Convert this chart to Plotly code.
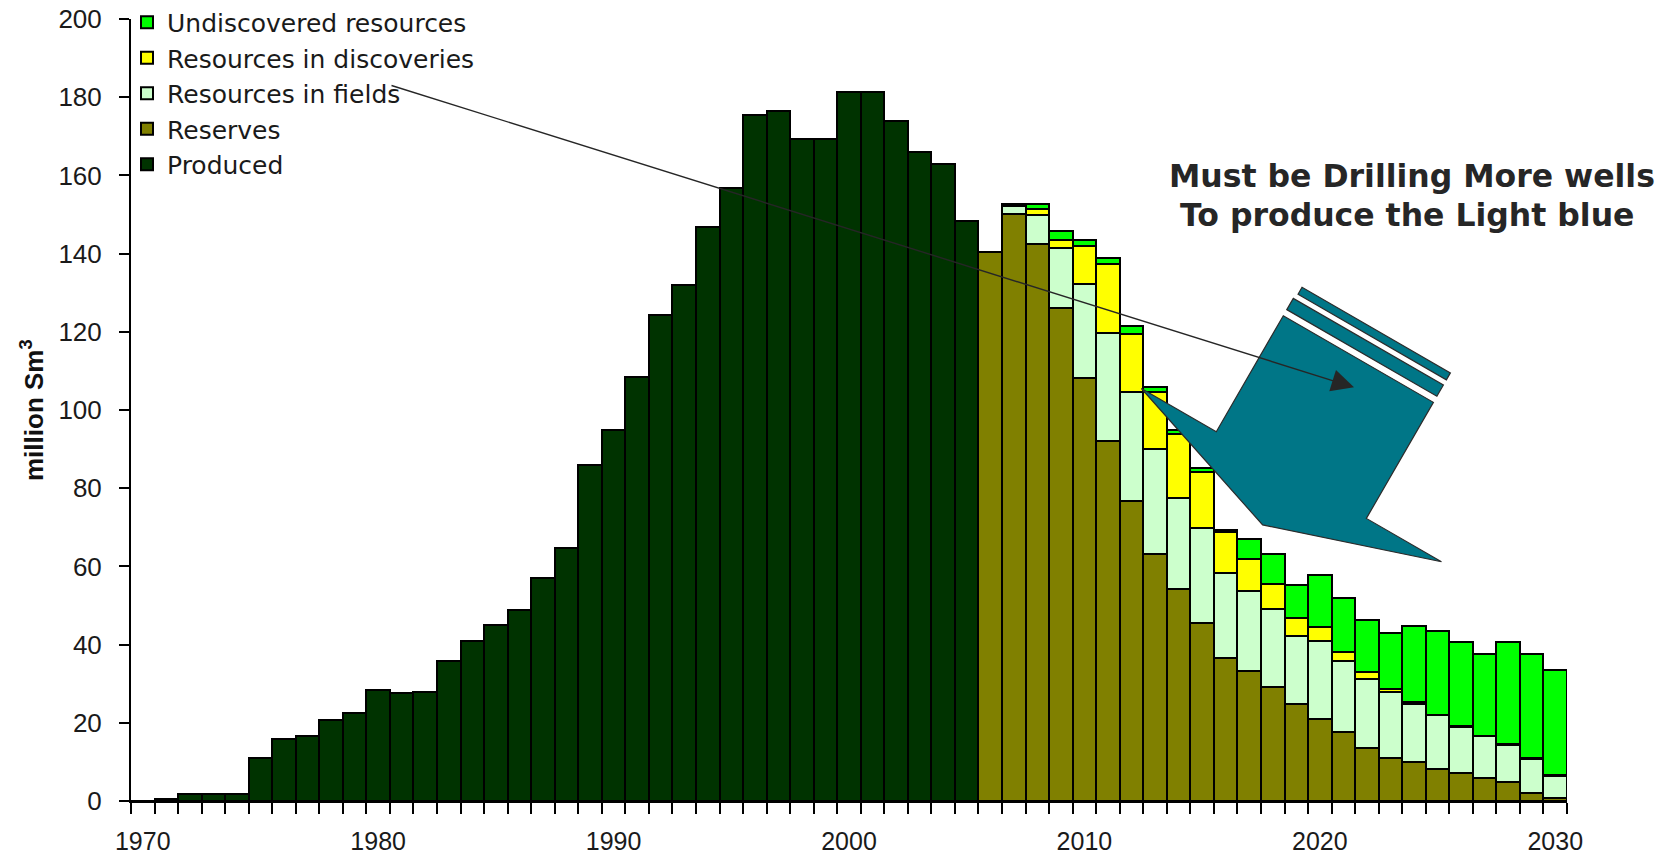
import math
import plotly.graph_objects as go

# ---------------- data ----------------
years = list(range(1970, 2031))
hist_years = list(range(1970, 2006))
produced = [0, 0.6, 1.9, 1.9, 1.9, 11.0, 15.9, 16.5, 20.6, 22.5,
            28.3, 27.7, 28.0, 35.7, 40.9, 45.0, 48.9, 57.1, 64.6, 86.0,
            94.8, 108.5, 124.2, 132.0, 146.7, 156.9, 175.5, 176.4, 169.2, 169.2,
            181.3, 181.3, 173.9, 165.9, 162.9, 148.4]
fc_years = list(range(2006, 2031))
reserves = [140.4, 150.2, 142.5, 126.1, 108.2, 92.2, 76.7, 63.3, 54.1, 45.4,
            36.6, 33.2, 29.2, 24.7, 21.0, 17.6, 13.6, 11.0, 9.9, 8.2,
            7.2, 5.9, 4.8, 2.1, 0.8]
res_fields = [0, 2.0, 7.5, 15.3, 24.0, 27.5, 27.9, 26.8, 23.4, 24.5,
              21.7, 20.6, 20.0, 17.4, 20.0, 18.2, 17.7, 17.0, 14.9, 13.7,
              11.8, 10.7, 9.4, 8.6, 5.5]
res_discoveries = [0, 0.2, 1.5, 2.1, 9.8, 17.7, 14.8, 14.5, 16.4, 14.2,
                   10.6, 8.1, 6.3, 4.7, 3.4, 2.4, 1.8, 0.7, 0.5, 0.2,
                   0.2, 0.1, 0.3, 0.2, 0.3]
undiscovered = [0, 0.3, 1.2, 2.4, 1.6, 1.5, 2.0, 1.2, 0.9, 1.1,
                0.5, 5.0, 7.8, 8.4, 13.3, 13.6, 13.1, 14.3, 19.4, 21.3,
                21.4, 21.0, 26.1, 26.8, 27.0]

series_names = ["Produced", "Reserves", "Resources in fields",
                "Resources in discoveries", "Undiscovered resources"]
series_colors = ["#003300", "#808000", "#CCFFCC", "#FFFF00", "#00FF00"]
x_tick_years = [1970, 1980, 1990, 2000, 2010, 2020, 2030]

# ---------------- layout geometry (pixels) ----------------
# the page body has an 8px margin, so the figure is drawn 8px in from the corner
OFF = 8
WIDTH, HEIGHT = 1680 - OFF, 857 - OFF
PLOT_LEFT, PLOT_TOP, PW, PH = 131, 19, 1436, 782   # in page pixels
L = PLOT_LEFT - OFF
T = PLOT_TOP - OFF
R = WIDTH - L - PW
B = HEIGHT - T - PH


def px(x):
    """page pixel x -> paper x"""
    return (x - PLOT_LEFT) / PW


def py(y):
    """page pixel y -> paper y"""
    return (PLOT_TOP + PH - y) / PH


n_hist = len(hist_years)
n_fc = len(fc_years)
full_series = [
    produced + [None] * n_fc,
    [None] * n_hist + reserves,
    [None] * n_hist + res_fields,
    [None] * n_hist + res_discoveries,
    [None] * n_hist + undiscovered,
]

fig = go.Figure()
for name, color, vals in zip(series_names, series_colors, full_series):
    fig.add_trace(go.Bar(
        x=years, y=vals, name=name,
        marker=dict(color=color, line=dict(color="#000000", width=2)),
    ))

# ---------------- teal block arrow (rotated frame) ----------------
ox, oy = 1283.3, 315.7
ang = math.radians(30)
ux, uy = math.cos(ang), math.sin(ang)
vx, vy = math.sin(ang), -math.cos(ang)


def rot(u, v):
    return ox + u * ux + v * vx, oy + u * uy + v * vy


def poly_path(pts):
    s = ""
    for i, (u, v) in enumerate(pts):
        X, Y = rot(u, v)
        s += ("M" if i == 0 else "L") + f"{px(X):.5f},{py(Y):.5f}"
    return s + "Z"


teal = "#007687"
body = [(-86.5, -134), (0, -134), (0, 0), (173.3, 0), (173.3, -134),
        (260, -134), (86.7, -191.5)]
stripe1 = [(0, 7), (173.3, 7), (173.3, 20), (0, 20)]
stripe2 = [(2, 26), (173.3, 26), (173.3, 34), (2, 34)]
shapes = []
for pts in (body, stripe1, stripe2):
    shapes.append(dict(type="path", path=poly_path(pts), xref="paper", yref="paper",
                       fillcolor=teal, line=dict(color="#2b2b2b", width=1.2),
                       layer="above"))

annotations = [
    dict(text="<b>million Sm<sup>3</sup></b>", xref="paper", yref="paper",
         x=px(32), y=py(410), textangle=-90, showarrow=False,
         xanchor="center", yanchor="middle",
         font=dict(family="Liberation Sans", size=26, color="#111111")),
    dict(text="<b>Must be Drilling More wells</b>", xref="paper", yref="paper",
         x=px(1411.7), y=py(176), showarrow=False, xanchor="center", yanchor="middle",
         font=dict(family="DejaVu Sans", size=31.5, color="#262626")),
    dict(text="<b>To produce the Light blue</b>", xref="paper", yref="paper",
         x=px(1406.7), y=py(214.5), showarrow=False, xanchor="center", yanchor="middle",
         font=dict(family="DejaVu Sans", size=31.5, color="#262626")),
    dict(text="", xref="paper", yref="paper", x=px(1354), y=py(387.3),
         ax=390 - 1354, ay=85 - 387.3, showarrow=True, arrowhead=2,
         arrowsize=3.2, arrowwidth=1.4, arrowcolor="#262626", standoff=0),
]

fig.update_layout(
    width=WIDTH, height=HEIGHT,
    margin=dict(l=L, r=R, t=T, b=B, autoexpand=False),
    paper_bgcolor="white", plot_bgcolor="white",
    barmode="stack", bargap=0,
    shapes=shapes, annotations=annotations,
    legend=dict(
        traceorder="reversed", x=px(127), y=py(-0.5), xanchor="left", yanchor="top",
        bgcolor="rgba(0,0,0,0)", tracegroupgap=0,
        font=dict(family="DejaVu Sans", size=25, color="#1a1a1a"),
    ),
    xaxis=dict(
        range=[1969.5, 2030.5], tickmode="array", tickvals=x_tick_years,
        ticktext=[str(v) for v in x_tick_years],
        ticks="outside", ticklen=11, tickcolor="rgba(0,0,0,0)", tickwidth=2,
        minor=dict(tickmode="linear", tick0=1969.5, dtick=1, ticks="outside",
                   ticklen=11, tickwidth=2, tickcolor="#000000", showgrid=False),
        showline=True, linecolor="#000000", linewidth=2,
        showgrid=False, zeroline=False, ticklabelstandoff=6,
        ticklabeloverflow="allow",
        tickfont=dict(family="Liberation Sans", size=25, color="#1a1a1a"),
    ),
    yaxis=dict(
        range=[0, 200], tick0=0, dtick=20,
        ticks="outside", ticklen=10, tickwidth=2, tickcolor="#000000",
        showline=True, linecolor="#000000", linewidth=2,
        showgrid=False, zeroline=False, ticklabelstandoff=12,
        ticklabeloverflow="allow",
        tickfont=dict(family="Liberation Sans", size=26, color="#1a1a1a"),
    ),
)

fig.write_html("out.html")
